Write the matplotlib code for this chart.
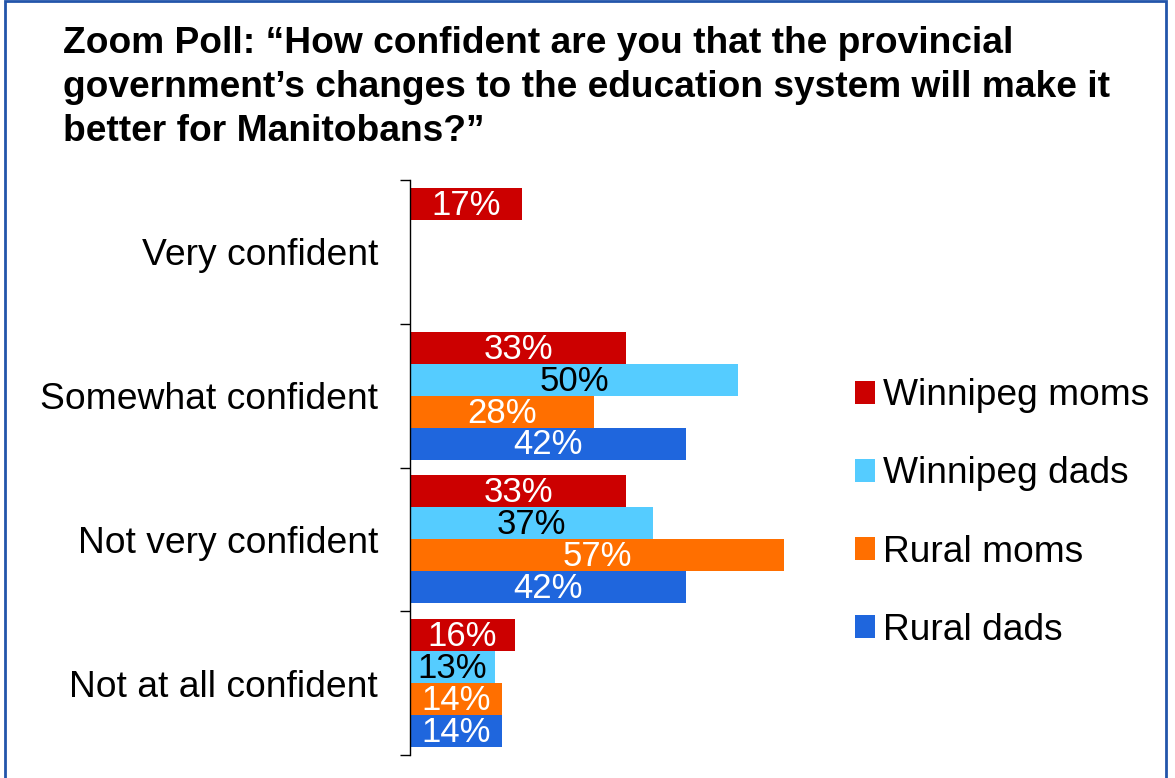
import numpy as np
import matplotlib.pyplot as plt
from matplotlib.patches import Rectangle

plt.rcParams['font.family'] = ['Liberation Sans', 'DejaVu Sans']

# data
categories = ['Very confident', 'Somewhat confident',
              'Not very confident', 'Not at all confident']
series = ['Winnipeg moms', 'Winnipeg dads', 'Rural moms', 'Rural dads']
winnipeg_moms = [17, 33, 33, 16]
winnipeg_dads = [0, 50, 37, 13]
rural_moms = [0, 28, 57, 14]
rural_dads = [0, 42, 42, 14]

values = [winnipeg_moms, winnipeg_dads, rural_moms, rural_dads]
colors = ['#CC0000', '#55CCFF', '#FF6F00', '#1F66DD']
label_colors = ['white', 'black', 'white', 'white']

fig = plt.figure(figsize=(11.75, 7.78), dpi=100)
ax = fig.add_axes([410 / 1175, 1 - 755 / 778, (803.6 - 410) / 1175, (755 - 180) / 778])

y = np.arange(len(categories))
h = 32 / 144
handles = []
for i, (vals, col, lcol) in enumerate(zip(values, colors, label_colors)):
    pos = y + (i - 1.5) * h
    bars = ax.barh(pos, vals, height=h, color=col, label=series[i])
    handles.append(bars)
    for b, v in zip(bars, vals):
        if v > 0:
            ax.text(v / 2, b.get_y() + h / 2 + 0.01, f'{v}%', ha='center', va='center',
                    color=lcol, fontsize=25)

ax.set_xlim(0, 60)
ax.set_ylim(3.5, -0.5)

# boundary ticks and category labels
ax.set_yticks(np.arange(-0.5, 4, 1))
ax.set_yticklabels([])
ax.tick_params(axis='y', which='major', length=7.2, width=1, direction='out')
ax.set_yticks(y, minor=True)
ax.set_yticklabels(categories, minor=True, fontsize=26.8)
ax.tick_params(axis='y', which='minor', length=0, pad=23)

ax.set_xticks([])
for s in ['top', 'right', 'bottom']:
    ax.spines[s].set_visible(False)
ax.spines['left'].set_linewidth(1)

leg = fig.legend(handles=handles, labels=series, loc='center left',
                 bbox_to_anchor=(840 / 1175, 1 - 513 / 778), frameon=False,
                 fontsize=26.7, handlelength=0.55, handleheight=0.55,
                 handletextpad=0.2, labelspacing=1.16, borderaxespad=0)

fig.text(63 / 1175, 1 - 26 / 778,
         'Zoom Poll: \u201cHow confident are you that the provincial\n'
         'government\u2019s changes to the education system will make it\n'
         'better for Manitobans?\u201d',
         ha='left', va='top', fontsize=26.7, fontweight='bold', linespacing=1.33)

# frame around the slide
fig.patches.append(Rectangle((5 / 1175, -0.05), (1166 - 5) / 1175, 1.05 - 1 / 778,
                             transform=fig.transFigure, fill=False,
                             edgecolor='#2255AA', linewidth=2))

fig.savefig('out.png', dpi=100)
